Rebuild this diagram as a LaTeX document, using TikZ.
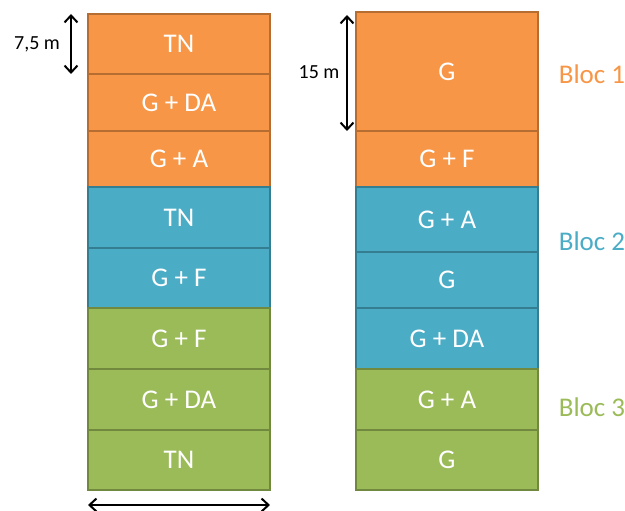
\documentclass[tikz,border=0pt]{standalone}
\usepackage{fontspec}
\setmainfont{Carlito}
\usetikzlibrary{positioning, arrows.meta}
\definecolor{orfill}{HTML}{F79646}
\definecolor{ordraw}{HTML}{B66D31}
\definecolor{blfill}{HTML}{4BACC6}
\definecolor{bldraw}{HTML}{357D91}
\definecolor{grfill}{HTML}{9BBB59}
\definecolor{grdraw}{HTML}{71893F}
\begin{document}
\begin{tikzpicture}[x=1pt, y=-1pt,
  cell/.style={draw, rectangle, minimum width=182pt, inner sep=0pt, outer sep=0pt,
    line width=2pt, text=white, font=\fontsize{27}{32}\selectfont},
  orcell/.style={cell, fill=orfill, draw=ordraw},
  blcell/.style={cell, fill=blfill, draw=bldraw},
  grcell/.style={cell, fill=grfill, draw=grdraw},
  dim/.style={line width=2pt, {Straight Barb[length=7pt,width=13pt]}-{Straight Barb[length=7pt,width=13pt]}},
  dimlabel/.style={font=\fontsize{20}{24}\selectfont},
  bloc/.style={font=\fontsize{27}{32}\selectfont}]
\useasboundingbox (0,0) rectangle (625,511);
% left column
\node[orcell, minimum height=60pt] (L1) at (179, 44) {TN};
\node[orcell, minimum height=57pt] (L2) at (179, 102.5) {G + DA};
\node[orcell, minimum height=56pt] (L3) at (179, 159) {G + A};
\node[blcell, minimum height=61pt] (L4) at (179, 217.5) {TN};
\node[blcell, minimum height=60pt] (L5) at (179, 278) {G + F};
\node[grcell, minimum height=61pt] (L6) at (179, 338.5) {G + F};
\node[grcell, minimum height=61pt] (L7) at (179, 399.5) {G + DA};
\node[grcell, minimum height=60pt] (L8) at (179, 460) {TN};
% right column
\node[orcell, minimum height=119pt] (R1) at (447, 71.5) {G};
\node[orcell, minimum height=56pt] (R2) at (447, 159) {G + F};
\node[blcell, minimum height=65pt] (R3) at (447, 219.5) {G + A};
\node[blcell, minimum height=56pt] (R4) at (447, 280) {G};
\node[blcell, minimum height=61pt] (R5) at (447, 338.5) {G + DA};
\node[grcell, minimum height=61pt] (R6) at (447, 399.5) {G + A};
\node[grcell, minimum height=60pt] (R7) at (447, 460) {G};
% dimensions
\draw[dim] ([xshift=-17pt]L1.north west) -- ([xshift=-17pt]L1.south west);
\node[dimlabel] (DL) at (37, 44) {7,5 m};
\draw[dim] ([xshift=-9pt, yshift=-3pt]R1.north west) -- ([xshift=-9pt]R1.south west);
\node[dimlabel] (DR) at (319, 72) {15 m};
\draw[dim] ([yshift=-15pt]L8.south west) -- ([yshift=-15pt]L8.south east);
% blocs
\node[bloc, text=orfill] (B1) at (592, 74) {Bloc 1};
\node[bloc, text=blfill] (B2) at (592, 241) {Bloc 2};
\node[bloc, text=grfill] (B3) at (592, 407) {Bloc 3};
\end{tikzpicture}
\end{document}
